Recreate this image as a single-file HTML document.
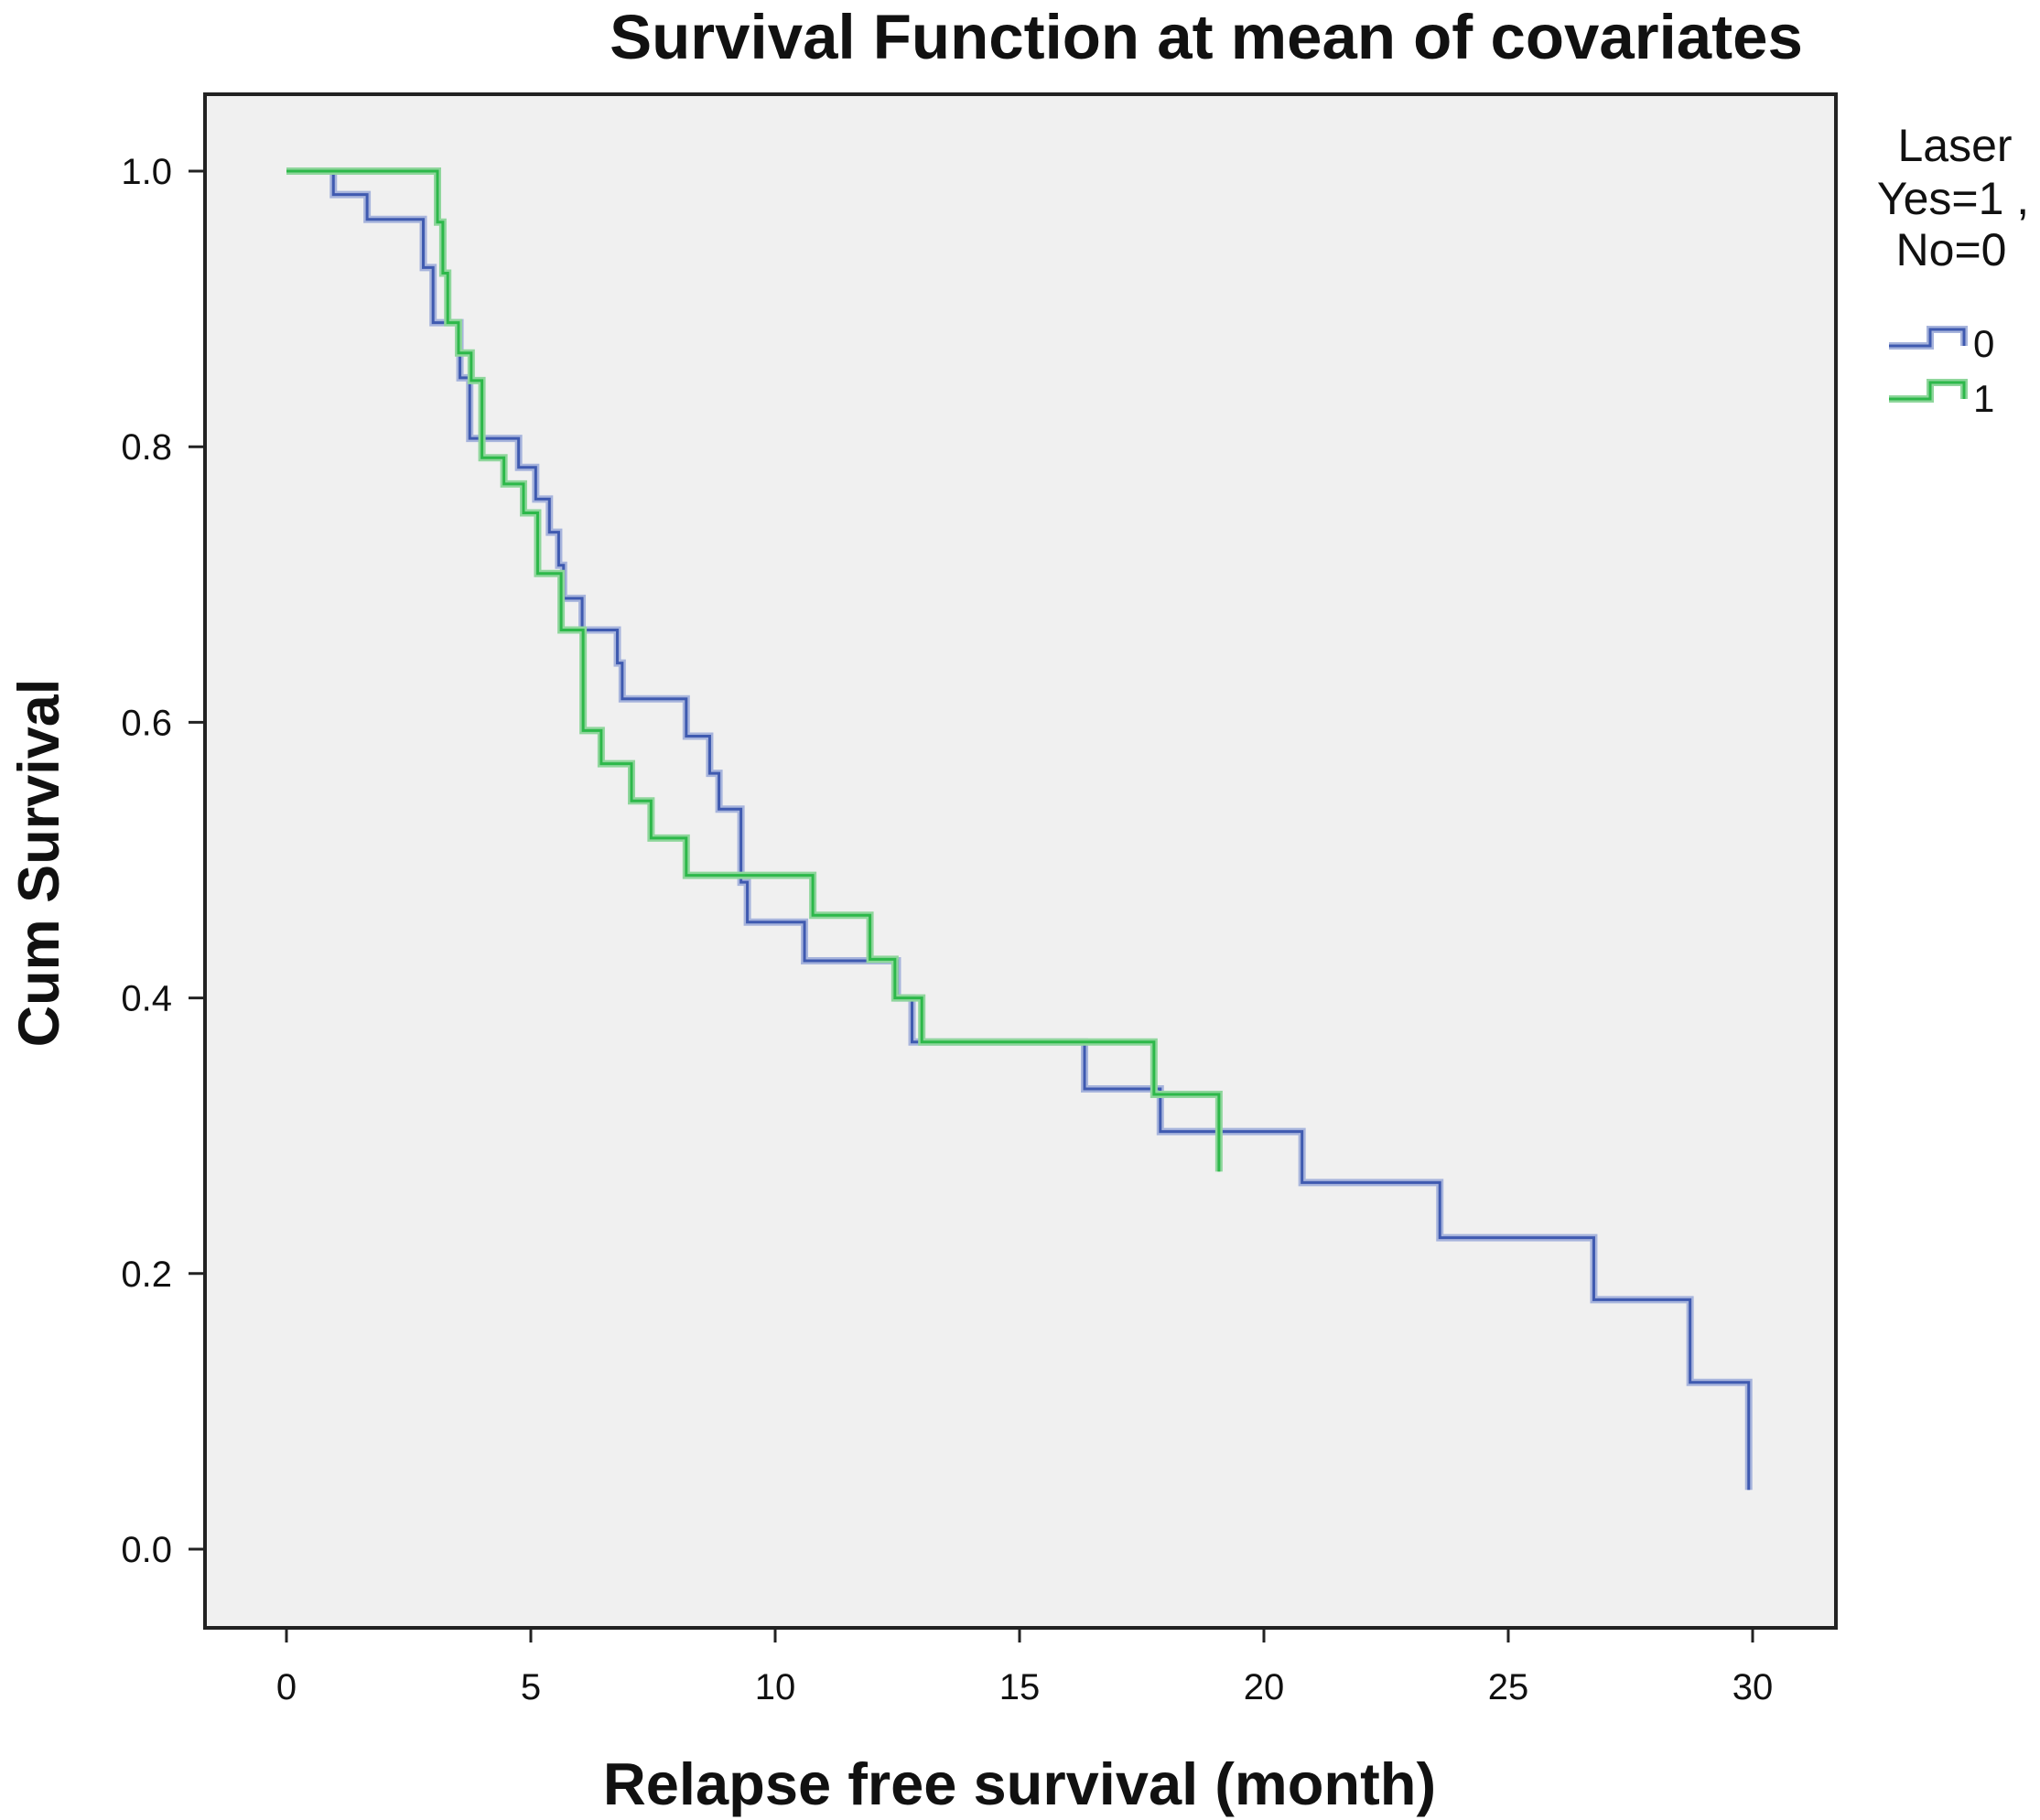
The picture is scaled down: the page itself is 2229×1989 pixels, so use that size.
<!DOCTYPE html>
<html><head><meta charset="utf-8"><style>
html,body{margin:0;padding:0;background:#fff;}
svg{display:block;font-family:"Liberation Sans",sans-serif;}
</style></head><body>
<svg id="chart" width="2229" height="1989" viewBox="0 0 2229 1989">
<rect x="224" y="103" width="1782" height="1676" fill="#f0f0f0"/>
<text x="1318" y="64" text-anchor="middle" font-size="69" font-weight="bold" fill="#111">Survival Function at mean of covariates</text>
<text x="1114" y="1972" text-anchor="middle" font-size="65" font-weight="bold" fill="#111">Relapse free survival (month)</text>
<text transform="translate(64,943) rotate(-90)" text-anchor="middle" font-size="63" font-weight="bold" fill="#111">Cum Survival</text>
<g id="axes"></g>
<g id="series"></g>
<rect x="224" y="103" width="1782" height="1676" fill="none" stroke="#222" stroke-width="4"/>
<g>
<text x="2136" y="176" text-anchor="middle" font-size="50" fill="#111">Laser</text>
<text x="2134" y="234" text-anchor="middle" font-size="50" fill="#111">Yes=1 ,</text>
<text x="2132" y="290" text-anchor="middle" font-size="50" fill="#111">No=0</text>
<g>
<path d="M2064 378 H2109 V360 H2146 V378" fill="none" stroke="#a7b4dc" stroke-width="8"/>
<path d="M2064 378 H2109 V360 H2146 V378" fill="none" stroke="#3f5ab0" stroke-width="3"/>
<text x="2156" y="390" font-size="42" fill="#111">0</text></g>
<g>
<path d="M2064 436 H2109 V418 H2146 V436" fill="none" stroke="#8fd69c" stroke-width="8"/>
<path d="M2064 436 H2109 V418 H2146 V436" fill="none" stroke="#2db84a" stroke-width="3"/>
<text x="2156" y="450" font-size="42" fill="#111">1</text></g>
</g>
</svg>
<script>
const xTicks = [0,5,10,15,20,25,30];
const yTicks = [0.0,0.2,0.4,0.6,0.8,1.0];
const yTickLabels = ["0.0","0.2","0.4","0.6","0.8","1.0"];
const timesNo = [0,0.96,1.65,2.8,3.0,3.55,3.75,4.75,5.1,5.38,5.57,5.67,6.05,6.77,6.87,8.18,8.66,8.85,9.3,9.43,10.6,12.5,12.8,16.33,17.88,20.78,23.6,26.75,28.72,29.92];
const survNo = [1.0,0.983,0.965,0.93,0.89,0.85,0.806,0.785,0.762,0.738,0.714,0.69,0.667,0.643,0.617,0.59,0.563,0.537,0.484,0.455,0.427,0.4,0.368,0.334,0.303,0.266,0.226,0.181,0.121,0.043];
const timesYes = [0,3.09,3.2,3.3,3.52,3.78,4.0,4.45,4.85,5.14,5.62,6.07,6.44,7.06,7.46,8.18,10.77,11.94,12.45,13.0,17.75,19.08];
const survYes = [1.0,0.963,0.926,0.89,0.868,0.848,0.792,0.773,0.752,0.708,0.667,0.594,0.57,0.543,0.516,0.489,0.46,0.428,0.4,0.368,0.33,0.274];

const NS='http://www.w3.org/2000/svg';
const xS = t => 313 + t*(1915-313)/30;
const yS = v => 1693 - v*(1693-187);
const axes=document.getElementById('axes');
xTicks.forEach(t=>{
  const l=document.createElementNS(NS,'line');
  l.setAttribute('x1',xS(t));l.setAttribute('x2',xS(t));l.setAttribute('y1',1779);l.setAttribute('y2',1795);
  l.setAttribute('stroke','#222');l.setAttribute('stroke-width','3');
  
  
  axes.appendChild(l);
  const tx=document.createElementNS(NS,'text');
  tx.setAttribute('x',xS(t));tx.setAttribute('y',1857);tx.setAttribute('text-anchor','middle');
  tx.setAttribute('font-size','40');tx.setAttribute('fill','#111');tx.textContent=String(t);
  
  
  axes.appendChild(tx);
});
yTicks.forEach((v,i)=>{
  const l=document.createElementNS(NS,'line');
  l.setAttribute('x1',206);l.setAttribute('x2',224);l.setAttribute('y1',yS(v));l.setAttribute('y2',yS(v));
  l.setAttribute('stroke','#222');l.setAttribute('stroke-width','3');
  
  
  axes.appendChild(l);
  const tx=document.createElementNS(NS,'text');
  tx.setAttribute('x',188);tx.setAttribute('y',yS(v)+14);tx.setAttribute('text-anchor','end');
  tx.setAttribute('font-size','40');tx.setAttribute('fill','#111');tx.textContent=yTickLabels[i];
  
  
  axes.appendChild(tx);
});
function stepPath(ts,ss){
  let d='M'+xS(ts[0])+' '+yS(ss[0]);
  for(let i=1;i<ts.length;i++){d+=' H'+xS(ts[i])+' V'+yS(ss[i]);}
  return d;
}
const series=document.getElementById('series');
function drawSeries(ts,ss,light,dark,name){
  const g=document.createElementNS(NS,'g');
  
  
  const d=stepPath(ts,ss);
  const p1=document.createElementNS(NS,'path');
  p1.setAttribute('d',d);p1.setAttribute('fill','none');p1.setAttribute('stroke',light);p1.setAttribute('stroke-width','8');
  
  
  g.appendChild(p1);
  const p2=document.createElementNS(NS,'path');
  p2.setAttribute('d',d);p2.setAttribute('fill','none');p2.setAttribute('stroke',dark);p2.setAttribute('stroke-width','3');
  
  
  g.appendChild(p2);
  series.appendChild(g);
}
drawSeries(timesNo,survNo,'#a7b4dc','#3f5ab0','series-laser-0');
drawSeries(timesYes,survYes,'#8fd69c','#2db84a','series-laser-1');
</script>
</body></html>
